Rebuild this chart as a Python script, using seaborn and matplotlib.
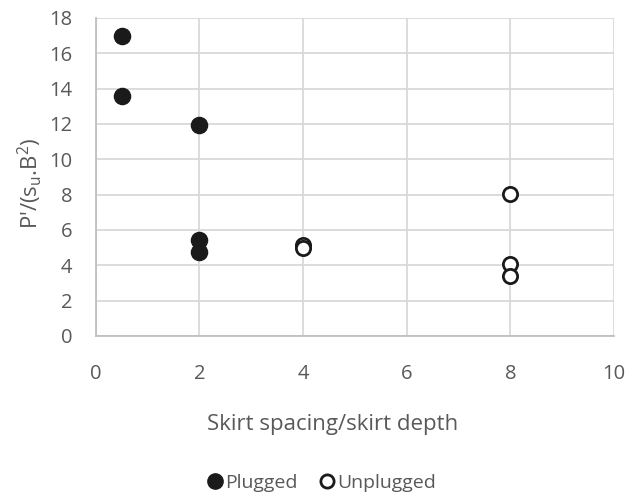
import matplotlib
matplotlib.use("Agg")
import matplotlib.pyplot as plt
import seaborn as sns
import pandas as pd
from matplotlib.lines import Line2D

plugged_x = [0.5, 0.5, 2, 2, 2]
plugged_y = [17.0, 13.6, 11.95, 5.42, 4.75]
unplugged_x = [4, 4, 8, 8, 8]
unplugged_y = [5.15, 4.95, 8.05, 4.08, 3.4]

x_ticks = [0, 2, 4, 6, 8, 10]
y_ticks = [0, 2, 4, 6, 8, 10, 12, 14, 16, 18]

sns.set_style("white")
plt.rcParams['font.family'] = ['Open Sans', 'DejaVu Sans']
plt.rcParams['mathtext.fontset'] = 'custom'
plt.rcParams['mathtext.rm'] = 'Open Sans'
plt.rcParams['mathtext.it'] = 'Open Sans'
plt.rcParams['mathtext.default'] = 'rm'

grey_txt = '#595959'
grid_c = '#d9d9d9'
axis_c = '#bfbfbf'

fig = plt.figure(figsize=(6.39, 4.97), dpi=100)
ax = fig.add_axes([0.150, 0.324, 0.811, 0.640])

df_p = pd.DataFrame({'x': plugged_x, 'y': plugged_y})
df_u = pd.DataFrame({'x': unplugged_x, 'y': unplugged_y})

sns.scatterplot(data=df_p, x='x', y='y', ax=ax, s=135, color='#1a1a1a',
                edgecolor='#1a1a1a', linewidth=1, zorder=3)
sns.scatterplot(data=df_u, x='x', y='y', ax=ax, s=105, facecolor='white',
                edgecolor='#1a1a1a', linewidth=2, zorder=3)

ax.set_xlim(0, 10)
ax.set_ylim(0, 18)
ax.set_xticks(x_ticks)
ax.set_yticks(y_ticks)
ax.grid(True, color=grid_c, linewidth=1.3)
ax.set_axisbelow(True)
for s in ['top', 'right']:
    ax.spines[s].set_visible(False)
for s in ['left', 'bottom']:
    ax.spines[s].set_color(axis_c)
    ax.spines[s].set_linewidth(1.3)
ax.tick_params(axis='both', colors=axis_c, labelcolor=grey_txt, labelsize=14.5,
               length=5, width=1.3, direction='out')
ax.tick_params(axis='x', pad=15)
ax.tick_params(axis='y', pad=12)

ax.set_xlabel('Skirt spacing/skirt depth', fontsize=16, color=grey_txt)
ax.xaxis.set_label_coords(0.456, -0.245)
ax.set_ylabel(r"P'/(s$_{u}$.B$^{2}$)", fontsize=16, color=grey_txt, va='center')
ax.yaxis.set_label_coords(-0.127, 0.48)

handles = [
    Line2D([], [], marker='o', linestyle='', markersize=11, color='#1a1a1a',
           markerfacecolor='#1a1a1a', label='Plugged'),
    Line2D([], [], marker='o', linestyle='', markersize=9.5, color='#1a1a1a',
           markerfacecolor='white', markeredgewidth=2, label='Unplugged'),
]
leg = fig.legend(handles=handles, loc='center', bbox_to_anchor=(0.502, 0.028),
                 ncol=2, frameon=False, fontsize=14, handletextpad=0.05,
                 columnspacing=1.0, handlelength=1.0)
for t in leg.get_texts():
    t.set_color(grey_txt)

fig.savefig('out.png', dpi=100)
